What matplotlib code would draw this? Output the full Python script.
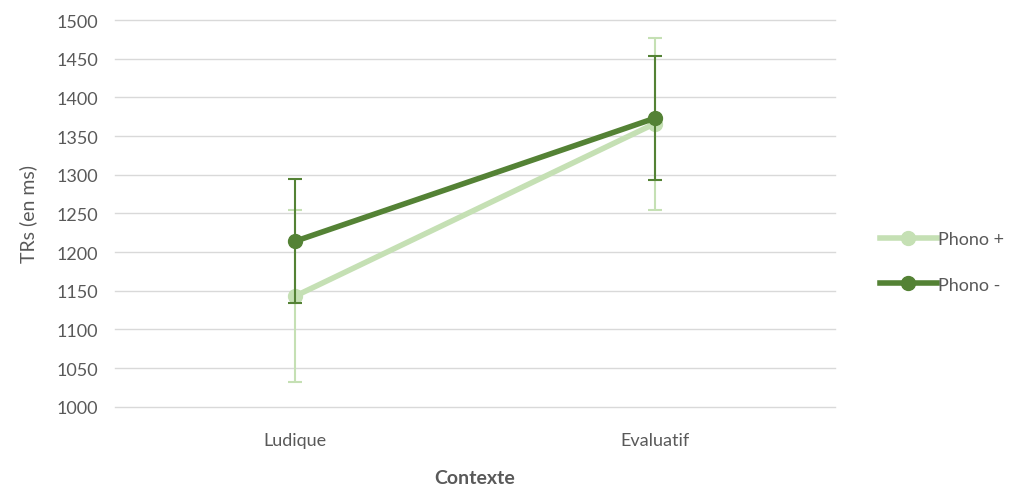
import matplotlib.pyplot as plt
from matplotlib.lines import Line2D

contextes = ['Ludique', 'Evaluatif']
phono_plus = [1143, 1366]
phono_plus_err = [111, 111]
phono_moins = [1214, 1373]
phono_moins_err = [80, 80]

light = '#C5E0B4'
dark = '#548235'
grey = '#595959'

plt.rcParams['font.family'] = ['Lato', 'DejaVu Sans']

fig = plt.figure(figsize=(10.19, 4.89), dpi=100)
ax = fig.add_axes([0.113, 0.166, 0.706, 0.791])

x = [0.5, 1.5]
ax.errorbar(x, phono_plus, yerr=phono_plus_err, color=light, lw=4, marker='o', ms=10,
            ecolor=light, elinewidth=1.5, capsize=5, capthick=1.5, zorder=3)
ax.errorbar(x, phono_moins, yerr=phono_moins_err, color=dark, lw=4, marker='o', ms=10,
            ecolor=dark, elinewidth=1.5, capsize=5, capthick=1.5, zorder=4)

ax.set_xlim(0, 2)
ax.set_ylim(1000, 1500)
ax.set_yticks(range(1000, 1501, 50))
ax.set_xticks(x)
ax.set_xticklabels(contextes)
ax.grid(axis='y', color='#D9D9D9', lw=1)
for gl in ax.get_ygridlines():
    gl.set_clip_on(False)
ax.set_axisbelow(True)
for s in ax.spines.values():
    s.set_visible(False)
ax.tick_params(length=0, labelsize=13, colors=grey)
ax.tick_params(axis='x', pad=18)
ax.tick_params(axis='y', pad=12)
ax.set_ylabel('TRs (en ms)', fontsize=14, color=grey, labelpad=14)
ax.set_xlabel('Contexte', fontsize=14, color=grey, fontweight='bold', labelpad=15)

handles = [Line2D([], [], color=light, lw=4, marker='o', ms=10),
           Line2D([], [], color=dark, lw=4, marker='o', ms=10)]
leg = ax.legend(handles, ['Phono +', 'Phono -'], loc='center left',
                bbox_to_anchor=(1.04, 0.375), frameon=False,
                fontsize=13, handlelength=3.2, handletextpad=0.05, labelspacing=1.65)
for t in leg.get_texts():
    t.set_color(grey)

fig.savefig('out.png', dpi=100)
